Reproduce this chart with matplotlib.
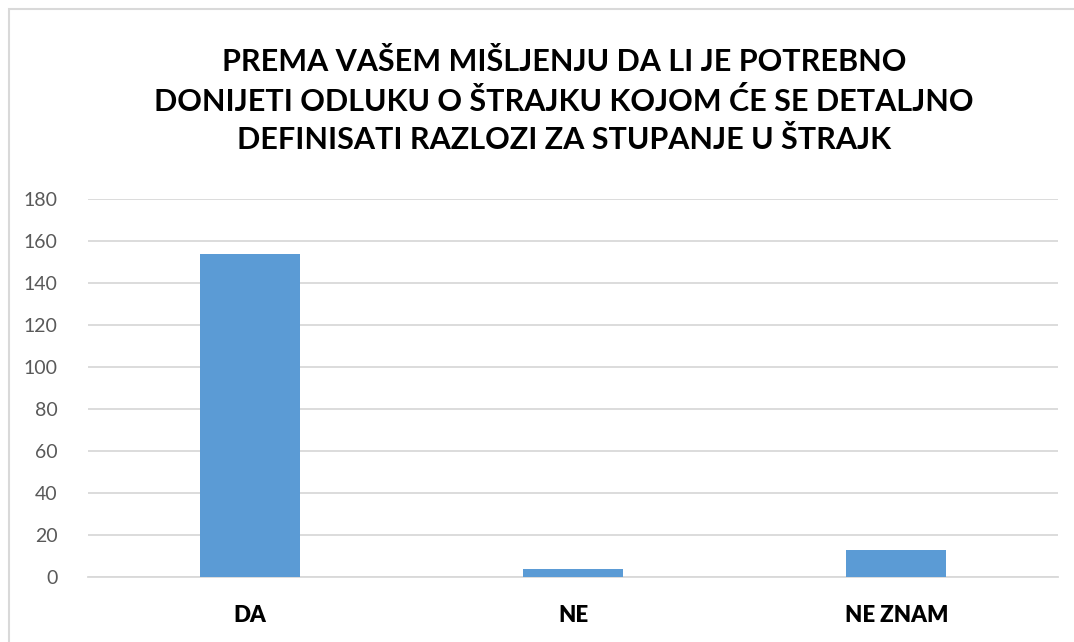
import matplotlib.pyplot as plt
from matplotlib.patches import Rectangle

categories = ['DA', 'NE', 'NE ZNAM']
values = [154, 4, 13]
yticks = [0, 20, 40, 60, 80, 100, 120, 140, 160, 180]
title = ('PREMA VAŠEM MIŠLJENJU DA LI JE POTREBNO\n'
         'DONIJETI ODLUKU O ŠTRAJKU KOJOM ĆE SE DETALJNO\n'
         'DEFINISATI RAZLOZI ZA STUPANJE U ŠTRAJK')

plt.rcParams['font.family'] = ['Lato', 'DejaVu Sans']

fig = plt.figure(figsize=(10.74, 6.42), dpi=100)
ax = fig.add_axes([0.082, 0.1012, 0.903, 0.5888])

# outer chart frame
fig.patches.append(Rectangle((9 / 1074, -0.05), 1.2, 1 - 9 / 642 + 0.05,
                             transform=fig.transFigure, fill=False,
                             edgecolor='#d9d9d9', linewidth=1.5))

ax.bar(range(len(categories)), values, width=0.31, color='#5b9bd5', zorder=3)
ax.set_xlim(-0.5, len(categories) - 0.5)
ax.set_ylim(0, 180)
ax.set_yticks(yticks)
ax.set_xticks(range(len(categories)))
ax.set_xticklabels(categories)
ax.tick_params(axis='y', labelsize=14, labelcolor='#595959', length=0, pad=22)
ax.tick_params(axis='x', length=0, pad=20, labelsize=16, labelcolor='black')
for lbl in ax.get_xticklabels():
    lbl.set_fontweight('heavy')
ax.grid(axis='y', color='#d9d9d9', linewidth=1.3, zorder=0)
for s in ['top', 'right', 'left']:
    ax.spines[s].set_visible(False)
ax.spines['bottom'].set_color('#d9d9d9')
ax.spines['bottom'].set_linewidth(1.3)

fig.text(0.525, 1 - 101 / 642, title, ha='center', va='center',
         fontsize=22, fontweight='bold', linespacing=1.45)

fig.savefig('out.png', dpi=100)
